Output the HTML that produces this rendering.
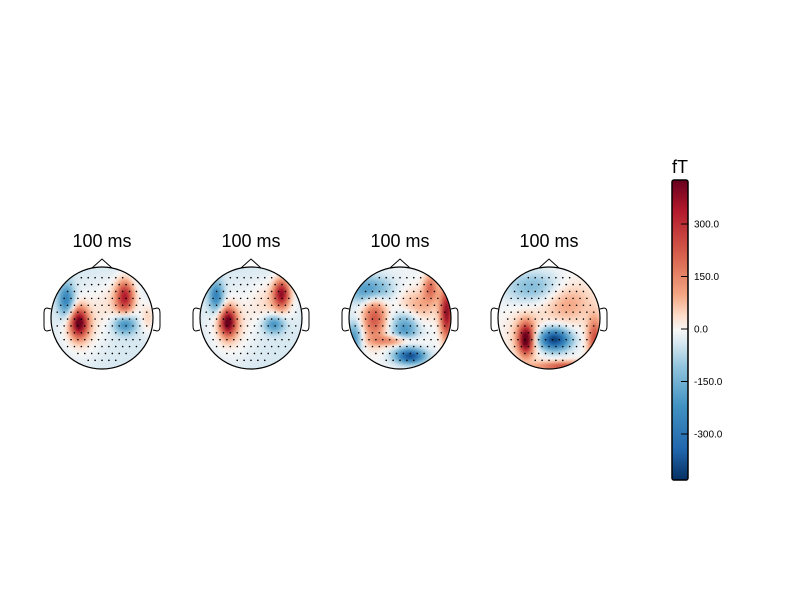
<!DOCTYPE html>
<html><head><meta charset="utf-8"><style>
body{margin:0;background:#fff;}
svg{display:block;font-family:"Liberation Sans",sans-serif;}
</style></head><body>
<svg id="fig" width="800" height="600" viewBox="0 0 800 600">
<defs>
<filter id="soft" x="-5%" y="-5%" width="110%" height="110%"><feGaussianBlur stdDeviation="1"/></filter>
<linearGradient id="cbgrad" x1="0" y1="1" x2="0" y2="0">
<stop offset="0" stop-color="#053061"/><stop offset="0.1" stop-color="#2166ac"/><stop offset="0.25" stop-color="#4393c3"/><stop offset="0.38" stop-color="#92c5de"/><stop offset="0.45" stop-color="#d1e5f0"/><stop offset="0.5" stop-color="#f7f7f7"/><stop offset="0.55" stop-color="#fddbc7"/><stop offset="0.62" stop-color="#f4a582"/><stop offset="0.75" stop-color="#d6604d"/><stop offset="0.9" stop-color="#b2182b"/><stop offset="1" stop-color="#67001f"/>
</linearGradient>
</defs>
<g id="maps"></g>
<g>
<text x="680" y="173" font-size="18" text-anchor="middle">fT</text>
<rect x="672" y="180" width="16" height="300" rx="2" fill="url(#cbgrad)" stroke="#000" stroke-width="1.5"/>
<g id="cbticks"></g>
</g>
</svg>
<script>
const titles=["100 ms","100 ms","100 ms","100 ms"];
const centersX=[102,251,400,549];
const cbTicks=[300,150,0,-150,-300];
const cbTickLabels=["300.0","150.0","0.0","-150.0","-300.0"];
const vmax=430;
const baseline=[-35,-35,-10,0];
// blobs per map: x,y in head-radius units, amplitude in fT, widths sx/sy in head units
const map1X=[-0.45,-0.4,0.45,-0.7,0.45,0.9,0.3];
const map1Y=[0.1,0.15,-0.42,-0.35,0.12,0.0,-0.3];
const map1A=[430,80,330,-250,-220,80,70];
const map1SX=[0.12,0.28,0.12,0.11,0.15,0.1,0.3];
const map1SY=[0.2,0.4,0.22,0.22,0.13,0.2,0.3];
const map2X=[-0.45,-0.4,0.6,-0.68,0.45,0.4];
const map2Y=[0.08,0.15,-0.48,-0.42,0.12,-0.3];
const map2A=[440,80,380,-250,-210,80];
const map2SX=[0.11,0.28,0.11,0.1,0.14,0.3];
const map2SY=[0.19,0.4,0.19,0.2,0.12,0.3];
const map3X=[0.92,-0.5,-0.1,0.2,-0.6,0.1,-0.9,0.35,0.6];
const map3Y=[-0.1,0.0,0.45,0.75,-0.55,0.2,0.4,-0.25,-0.6];
const map3A=[400,240,180,-380,-220,-200,-200,110,200];
const map3SX=[0.09,0.16,0.28,0.2,0.28,0.18,0.1,0.28,0.1];
const map3SY=[0.35,0.32,0.07,0.1,0.18,0.22,0.22,0.22,0.18];
const map4X=[-0.45,-0.45,0.1,0.3,0.9,-0.3,0.35];
const map4Y=[0.42,0.35,0.42,0.95,0.4,-0.6,-0.3];
const map4A=[440,90,-420,250,250,-130,110];
const map4SX=[0.1,0.22,0.22,0.4,0.1,0.4,0.35];
const map4SY=[0.2,0.32,0.15,0.07,0.28,0.22,0.28];
const mapsX=[map1X,map2X,map3X,map4X],mapsY=[map1Y,map2Y,map3Y,map4Y],mapsA=[map1A,map2A,map3A,map4A],mapsSX=[map1SX,map2SX,map3SX,map4SX],mapsSY=[map1SY,map2SY,map3SY,map4SY];

const NS="http://www.w3.org/2000/svg";
const stops=[[0,[5,48,97]],[0.1,[33,102,172]],[0.25,[67,147,195]],[0.38,[146,197,222]],[0.45,[209,229,240]],[0.5,[247,247,247]],[0.55,[253,219,199]],[0.62,[244,165,130]],[0.75,[214,96,77]],[0.9,[178,24,43]],[1,[103,0,31]]];
function cmap(v){let t=Math.max(0,Math.min(1,(v/vmax+1)/2));for(let i=1;i<stops.length;i++){if(t<=stops[i][0]){const a=stops[i-1],b=stops[i];const f=(t-a[0])/(b[0]-a[0]);const c=a[1].map((x,k)=>Math.round(x+(b[1][k]-x)*f));return `rgb(${c})`;}}return "rgb(103,0,31)";}
function el(tag,attrs,parent){const e=document.createElementNS(NS,tag);for(const k in attrs)e.setAttribute(k,attrs[k]);parent.appendChild(e);return e;}
const cbY=v=>329-v*(52.5/150);
const cbg=document.getElementById('cbticks');
cbTicks.forEach((v,i)=>{
 const l=el('line',{x1:681,x2:688,y1:cbY(v),y2:cbY(v),stroke:'#000','stroke-width':1},cbg);
 
 
 const t=el('text',{x:694,y:cbY(v)+3.5,'font-size':10},cbg);
 t.textContent=cbTickLabels[i];
 
 
});
const R=51,CY=318,CELL=3;
const mg=document.getElementById('maps');
titles.forEach((title,m)=>{
 const cx=centersX[m];
 const g=el('g',{},mg);
 
 
 const t=el('text',{x:cx,y:247,'font-size':18,'text-anchor':'middle'},g);
 t.textContent=title;
 
 
 const cp=el('clipPath',{id:'clip'+m},g);
 el('circle',{cx:cx,cy:CY,r:R},cp);
 const inner=el('g',{'clip-path':`url(#clip${m})`},g);
 const field=el('g',{filter:'url(#soft)'},inner);
 
 
 const X=mapsX[m],Y=mapsY[m],A=mapsA[m],SX=mapsSX[m],SY=mapsSY[m];
 for(let py=CY-R-3;py<CY+R+3;py+=CELL){for(let px=cx-R-3;px<cx+R+3;px+=CELL){
  const u=(px+CELL/2-cx)/R,w=(py+CELL/2-CY)/R;
  if(u*u+w*w>1.2)continue;
  let v=baseline[m];
  for(let i=0;i<X.length;i++){const d2=((u-X[i])/SX[i])**2+((w-Y[i])/SY[i])**2;v+=A[i]*Math.exp(-d2/2);}
  el('rect',{x:px,y:py,width:CELL+0.5,height:CELL+0.5,fill:cmap(v)},field);
 }}
 for(let j=-6;j<=6;j++){for(let i=-7;i<=7;i++){
  const ox=(i+(j%2?0.5:0))*0.135,oy=j*0.135+0.02;
  if(ox*ox+oy*oy<0.8){el('circle',{cx:cx+ox*R,cy:CY+oy*R,r:0.8,fill:'#000'},inner);}
 }}
 const head=el('circle',{cx:cx,cy:CY,r:R,fill:'none',stroke:'#000','stroke-width':1.2},g);
 
 
 const nose=el('path',{d:`M${cx-10} ${CY-R+1} L${cx} ${CY-R-8} L${cx+10} ${CY-R+1}`,fill:'none',stroke:'#000','stroke-width':1},g);
 
 
 [-1,1].forEach(s=>{
  const ex=cx+s*R;
  const e=el('path',{d:`M${ex} ${CY-9} L${ex+s*4} ${CY-10} Q${ex+s*7} ${CY-10} ${ex+s*7} ${CY-5} L${ex+s*7} ${CY+8} Q${ex+s*7} ${CY+13} ${ex+s*4} ${CY+13} L${ex} ${CY+12}`,fill:'none',stroke:'#000','stroke-width':1},g);
  
  
 });
});
</script>
</body></html>
